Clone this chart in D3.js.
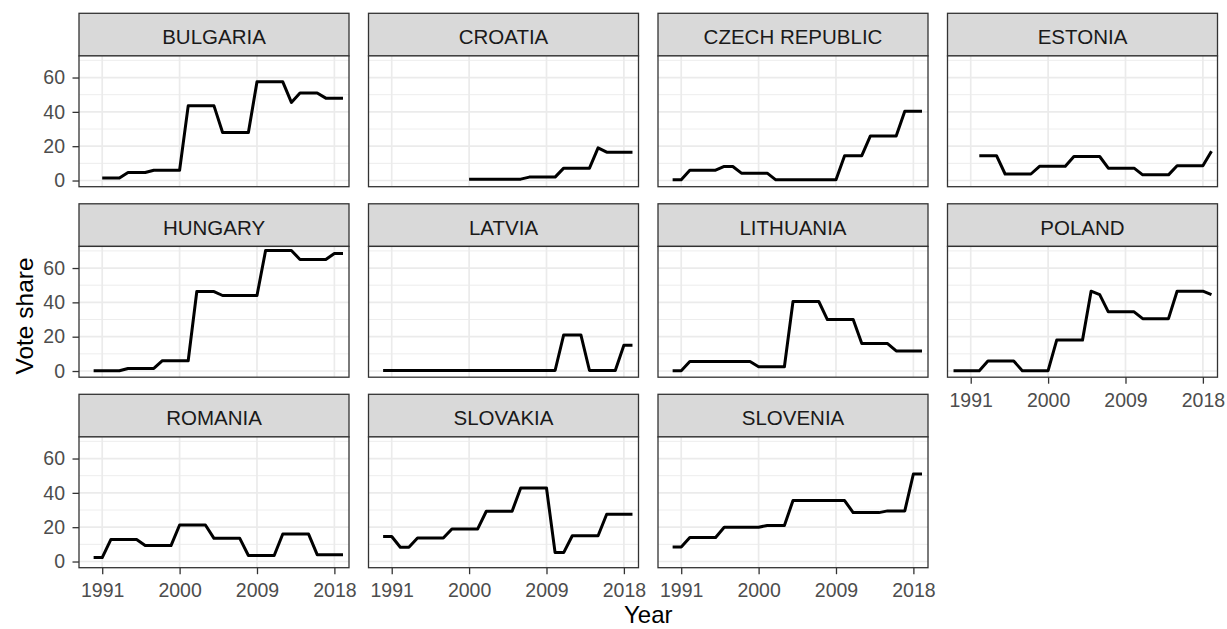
<!DOCTYPE html>
<html>
<head>
<meta charset="utf-8">
<script src="https://cdn.jsdelivr.net/npm/d3@7"></script>
<style>
  html, body { margin: 0; padding: 0; background: #ffffff; }
  svg { display: block; font-family: "Liberation Sans", Arial, sans-serif; }
</style>
</head>
<body>
<svg id="chart" width="1227" height="629"></svg>
<script>
// ---------- DATA ----------
const years = [1989, 1990, 1991, 1992, 1993, 1994, 1995, 1996, 1997, 1998, 1999, 2000, 2001, 2002, 2003, 2004,
               2005, 2006, 2007, 2008, 2009, 2010, 2011, 2012, 2013, 2014, 2015, 2016, 2017, 2018, 2019];

const countries = ["BULGARIA", "CROATIA", "CZECH REPUBLIC", "ESTONIA", "HUNGARY", "LATVIA",
                   "LITHUANIA", "POLAND", "ROMANIA", "SLOVAKIA", "SLOVENIA"];

const bulgaria = [null, null, 1.5, 1.5, 1.5, 4.7, 4.7, 4.7, 6, 6, 6, 6, 43.5, 43.5, 43.5, 43.5,
                  28, 28, 28, 28, 57.5, 57.5, 57.5, 57.5, 45.5, 51, 51, 51, 48, 48, 48];
const croatia = [null, null, null, null, null, null, null, null, null, null, null, 0.8, 0.8, 0.8, 0.8, 0.8,
                 0.8, 0.8, 2, 2, 2, 2, 7.2, 7.2, 7.2, 7.2, 19, 16.5, 16.5, 16.5, 16.5];
const czech = [null, 0.4, 0.4, 6, 6, 6, 6, 8.2, 8.2, 4.3, 4.3, 4.3, 4.3, 0.4, 0.4, 0.4,
               0.4, 0.4, 0.4, 0.4, 0.4, 14.5, 14.5, 14.5, 26, 26, 26, 26, 40.3, 40.3, 40.3];
const estonia = [null, null, null, 14.5, 14.5, 14.5, 3.8, 3.8, 3.8, 3.8, 8.3, 8.3, 8.3, 8.3, 14, 14,
                 14, 14, 7.2, 7.2, 7.2, 7.2, 3.3, 3.3, 3.3, 3.3, 8.6, 8.6, 8.6, 8.6, 17];
const hungary = [null, 0.2, 0.2, 0.2, 0.2, 1.5, 1.5, 1.5, 1.5, 6, 6, 6, 6, 46.3, 46.3, 46.3,
                 44, 44, 44, 44, 44, 70.2, 70.2, 70.2, 70.2, 65, 65, 65, 65, 68.5, 68.5];
const latvia = [null, 0.3, 0.3, 0.3, 0.3, 0.3, 0.3, 0.3, 0.3, 0.3, 0.3, 0.3, 0.3, 0.3, 0.3, 0.3,
                0.3, 0.3, 0.3, 0.3, 0.3, 0.3, 21, 21, 21, 0.3, 0.3, 0.3, 0.3, 15, 15];
const lithuania = [null, 0.2, 0.2, 5.5, 5.5, 5.5, 5.5, 5.5, 5.5, 5.5, 5.5, 2.5, 2.5, 2.5, 2.5, 40.5,
                   40.5, 40.5, 40.5, 30, 30, 30, 30, 16, 16, 16, 16, 11.7, 11.7, 11.7, 11.7];
const poland = [0.2, 0.2, 0.2, 0.2, 5.8, 5.8, 5.8, 5.8, 0.2, 0.2, 0.2, 0.2, 18, 18, 18, 18,
                46.5, 44.5, 34.5, 34.5, 34.5, 34.5, 30.5, 30.5, 30.5, 30.5, 46.5, 46.5, 46.5, 46.5, 44.5];
const romania = [null, 2.3, 2.3, 12.8, 12.8, 12.8, 12.8, 9.3, 9.3, 9.3, 9.3, 21.3, 21.3, 21.3, 21.3, 13.5,
                 13.5, 13.5, 13.5, 3.5, 3.5, 3.5, 3.5, 16, 16, 16, 16, 4, 4, 4, 4];
const slovakia = [null, 14.6, 14.6, 8.3, 8.3, 13.7, 13.7, 13.7, 13.7, 19, 19, 19, 19, 29.3, 29.3, 29.3,
                  29.3, 42.8, 42.8, 42.8, 42.8, 5.2, 5.2, 15, 15, 15, 15, 27.5, 27.5, 27.5, 27.5];
const slovenia = [null, 8.5, 8.5, 14, 14, 14, 14, 20, 20, 20, 20, 20, 21, 21, 21, 35.5,
                  35.5, 35.5, 35.5, 35.5, 35.5, 35.5, 28.5, 28.5, 28.5, 28.5, 29.5, 29.5, 29.5, 51, 51];

const xTicks = [1991, 2000, 2009, 2018];
const yTicks = [0, 20, 40, 60];
const yMinor = [10, 30, 50, 70];

const seriesList = [bulgaria, croatia, czech, estonia, hungary, latvia, lithuania, poland, romania, slovakia, slovenia];

// ---------- LAYOUT ----------
const W = 1227, H = 629;
const nCol = 4;
const left0 = 79, colStep = 289.5, panelW = 270;
const top0 = 13.3, rowStep = 190.5, stripH = 42.6, panelH = 130.8;

const svg = d3.select("#chart");
svg.append("rect").attr("width", W).attr("height", H).attr("fill", "#ffffff");

const x = d3.scaleLinear().domain([1988.3, 2019.7]).range([0, panelW]);
const y = d3.scaleLinear().domain([-3.6, 72.6]).range([panelH, 0]);

const line = d3.line()
  .defined(d => d.v !== null)
  .x(d => x(d.year))
  .y(d => y(d.v));

const nPanels = countries.length;

countries.forEach((name, i) => {
  const col = i % nCol, row = Math.floor(i / nCol);
  const px = left0 + col * colStep;
  const sy = top0 + row * rowStep;
  const py = sy + stripH;

  // strip
  const strip = svg.append("g").attr("transform", `translate(${px},${sy})`);
  strip.append("rect").attr("width", panelW).attr("height", stripH)
    .attr("fill", "#d9d9d9").attr("stroke", "#333333").attr("stroke-width", 1.3);
  strip.append("text").attr("x", panelW / 2).attr("y", 31)
    .attr("text-anchor", "middle").attr("font-size", 20.5).attr("fill", "#1a1a1a")
    .text(name);

  const g = svg.append("g").attr("transform", `translate(${px},${py})`);
  g.append("rect").attr("width", panelW).attr("height", panelH).attr("fill", "#ffffff");

  // minor grid
  g.selectAll(".ymin").data(yMinor).join("line")
    .attr("x1", 0).attr("x2", panelW)
    .attr("y1", d => y(d)).attr("y2", d => y(d))
    .attr("stroke", "#ebebeb").attr("stroke-width", 0.9);
  // major grid
  g.selectAll(".ymaj").data(yTicks).join("line")
    .attr("x1", 0).attr("x2", panelW)
    .attr("y1", d => y(d)).attr("y2", d => y(d))
    .attr("stroke", "#ebebeb").attr("stroke-width", 1.7);
  g.selectAll(".xmaj").data(xTicks).join("line")
    .attr("y1", 0).attr("y2", panelH)
    .attr("x1", d => x(d)).attr("x2", d => x(d))
    .attr("stroke", "#ebebeb").attr("stroke-width", 1.7);

  // data line
  const data = years.map((yr, k) => ({ year: yr, v: seriesList[i][k] }));
  g.append("path").datum(data)
    .attr("d", line)
    .attr("fill", "none").attr("stroke", "#000000")
    .attr("stroke-width", 3).attr("stroke-linejoin", "round");

  // border
  g.append("rect").attr("width", panelW).attr("height", panelH)
    .attr("fill", "none").attr("stroke", "#333333").attr("stroke-width", 1.3);

  // y axis on first column
  if (col === 0) {
    const ya = g.append("g").call(d3.axisLeft(y).tickValues(yTicks).tickSize(6.5).tickPadding(7.5));
    ya.select(".domain").remove();
    ya.selectAll(".tick line").attr("stroke", "#333333").attr("stroke-width", 1.3);
    ya.selectAll(".tick text").attr("fill", "#4d4d4d").attr("font-size", 19.5)
      .attr("font-family", "Liberation Sans, Arial, sans-serif");
  }
  // x axis on bottom-most panel of each column
  const below = i + nCol;
  if (below >= nPanels) {
    const xa = g.append("g").attr("transform", `translate(0,${panelH})`)
      .call(d3.axisBottom(x).tickValues(xTicks).tickFormat(d3.format("d")).tickSize(6.5).tickPadding(9));
    xa.select(".domain").remove();
    xa.selectAll(".tick line").attr("stroke", "#333333").attr("stroke-width", 1.3);
    xa.selectAll(".tick text").attr("fill", "#4d4d4d").attr("font-size", 19.5)
      .attr("font-family", "Liberation Sans, Arial, sans-serif");
  }
});

// axis titles
const plotLeft = left0, plotRight = left0 + (nCol - 1) * colStep + panelW;
svg.append("text")
  .attr("x", (plotLeft + plotRight) / 2).attr("y", 623)
  .attr("text-anchor", "middle").attr("font-size", 24).attr("fill", "#000000")
  .text("Year");
svg.append("text")
  .attr("transform", `translate(33,316) rotate(-90)`)
  .attr("text-anchor", "middle").attr("font-size", 24.5).attr("fill", "#000000")
  .text("Vote share");
</script>
</body>
</html>
